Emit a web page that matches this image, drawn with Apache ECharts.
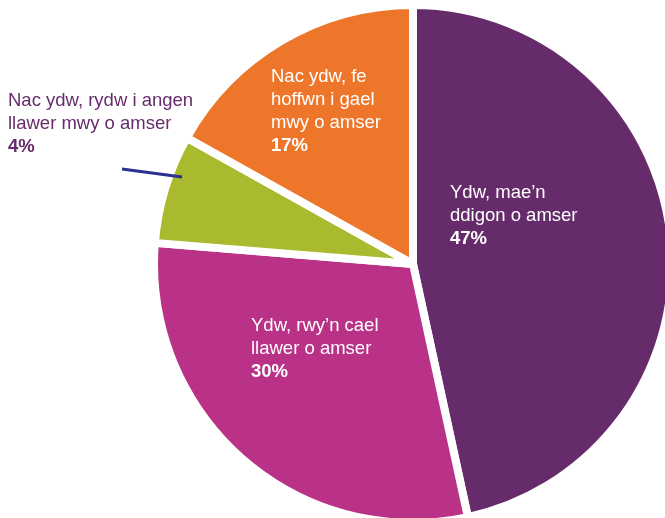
<!DOCTYPE html>
<html><head><meta charset="utf-8">
<script src="https://cdn.jsdelivr.net/npm/echarts@6/dist/echarts.min.js"></script>
<style>html,body{margin:0;padding:0;background:#fff}#c{width:665px;height:518px}</style>
</head><body><div id="c"></div>
<script>
const categories = ["Ydw, mae’n\nddigon o amser", "Ydw, rwy’n cael\nllawer o amser", "Nac ydw, rydw i angen\nllawer mwy o amser", "Nac ydw, fe\nhoffwn i gael\nmwy o amser"];
const values = [46.6, 29.7, 6.8, 16.9];
const percentLabels = ["47%", "30%", "4%", "17%"];
const colors = ["#662B6B", "#B93287", "#A9BA2F", "#EE762A"];
const labelPos = [[450, 181], [251, 314], [8, 89], [271, 65]];
const labelColors = ["#fff", "#fff", "#662B6B", "#fff"];

const chart = echarts.init(document.getElementById('c'), null, {renderer: 'canvas'});
chart.setOption({
  animation: false,
  series: [{
    type: 'pie',
    center: [413, 264],
    radius: [0, 259],
    startAngle: 90,
    clockwise: true,
    silent: true,
    itemStyle: {borderColor: '#fff', borderWidth: 8},
    data: values.map((v, i) => ({
      value: v, name: categories[i],
      itemStyle: {color: colors[i]},
      label: {color: labelColors[i],
        rich: {n: {color: labelColors[i], fontSize: 18.5, lineHeight: 23, fontFamily: 'Liberation Sans'},
               b: {color: labelColors[i], fontSize: 18.5, lineHeight: 23, fontWeight: 'bold', fontFamily: 'Liberation Sans'}}}
    })),
    label: {
      show: true, position: 'inside', align: 'left',
      formatter: p => p.name.split('\n').map(s => '{n|' + s + '}').join('\n') + '\n{b|' + percentLabels[p.dataIndex] + '}'
    },
    labelLine: {show: false},
    labelLayout: p => ({x: labelPos[p.dataIndex][0], y: labelPos[p.dataIndex][1], align: 'left', verticalAlign: 'top'})
  }],
  graphic: [{
    type: 'line', z: 100, shape: {x1: 122, y1: 169, x2: 182, y2: 177},
    style: {stroke: '#2B3090', lineWidth: 3}
  }]
});
</script></body></html>
